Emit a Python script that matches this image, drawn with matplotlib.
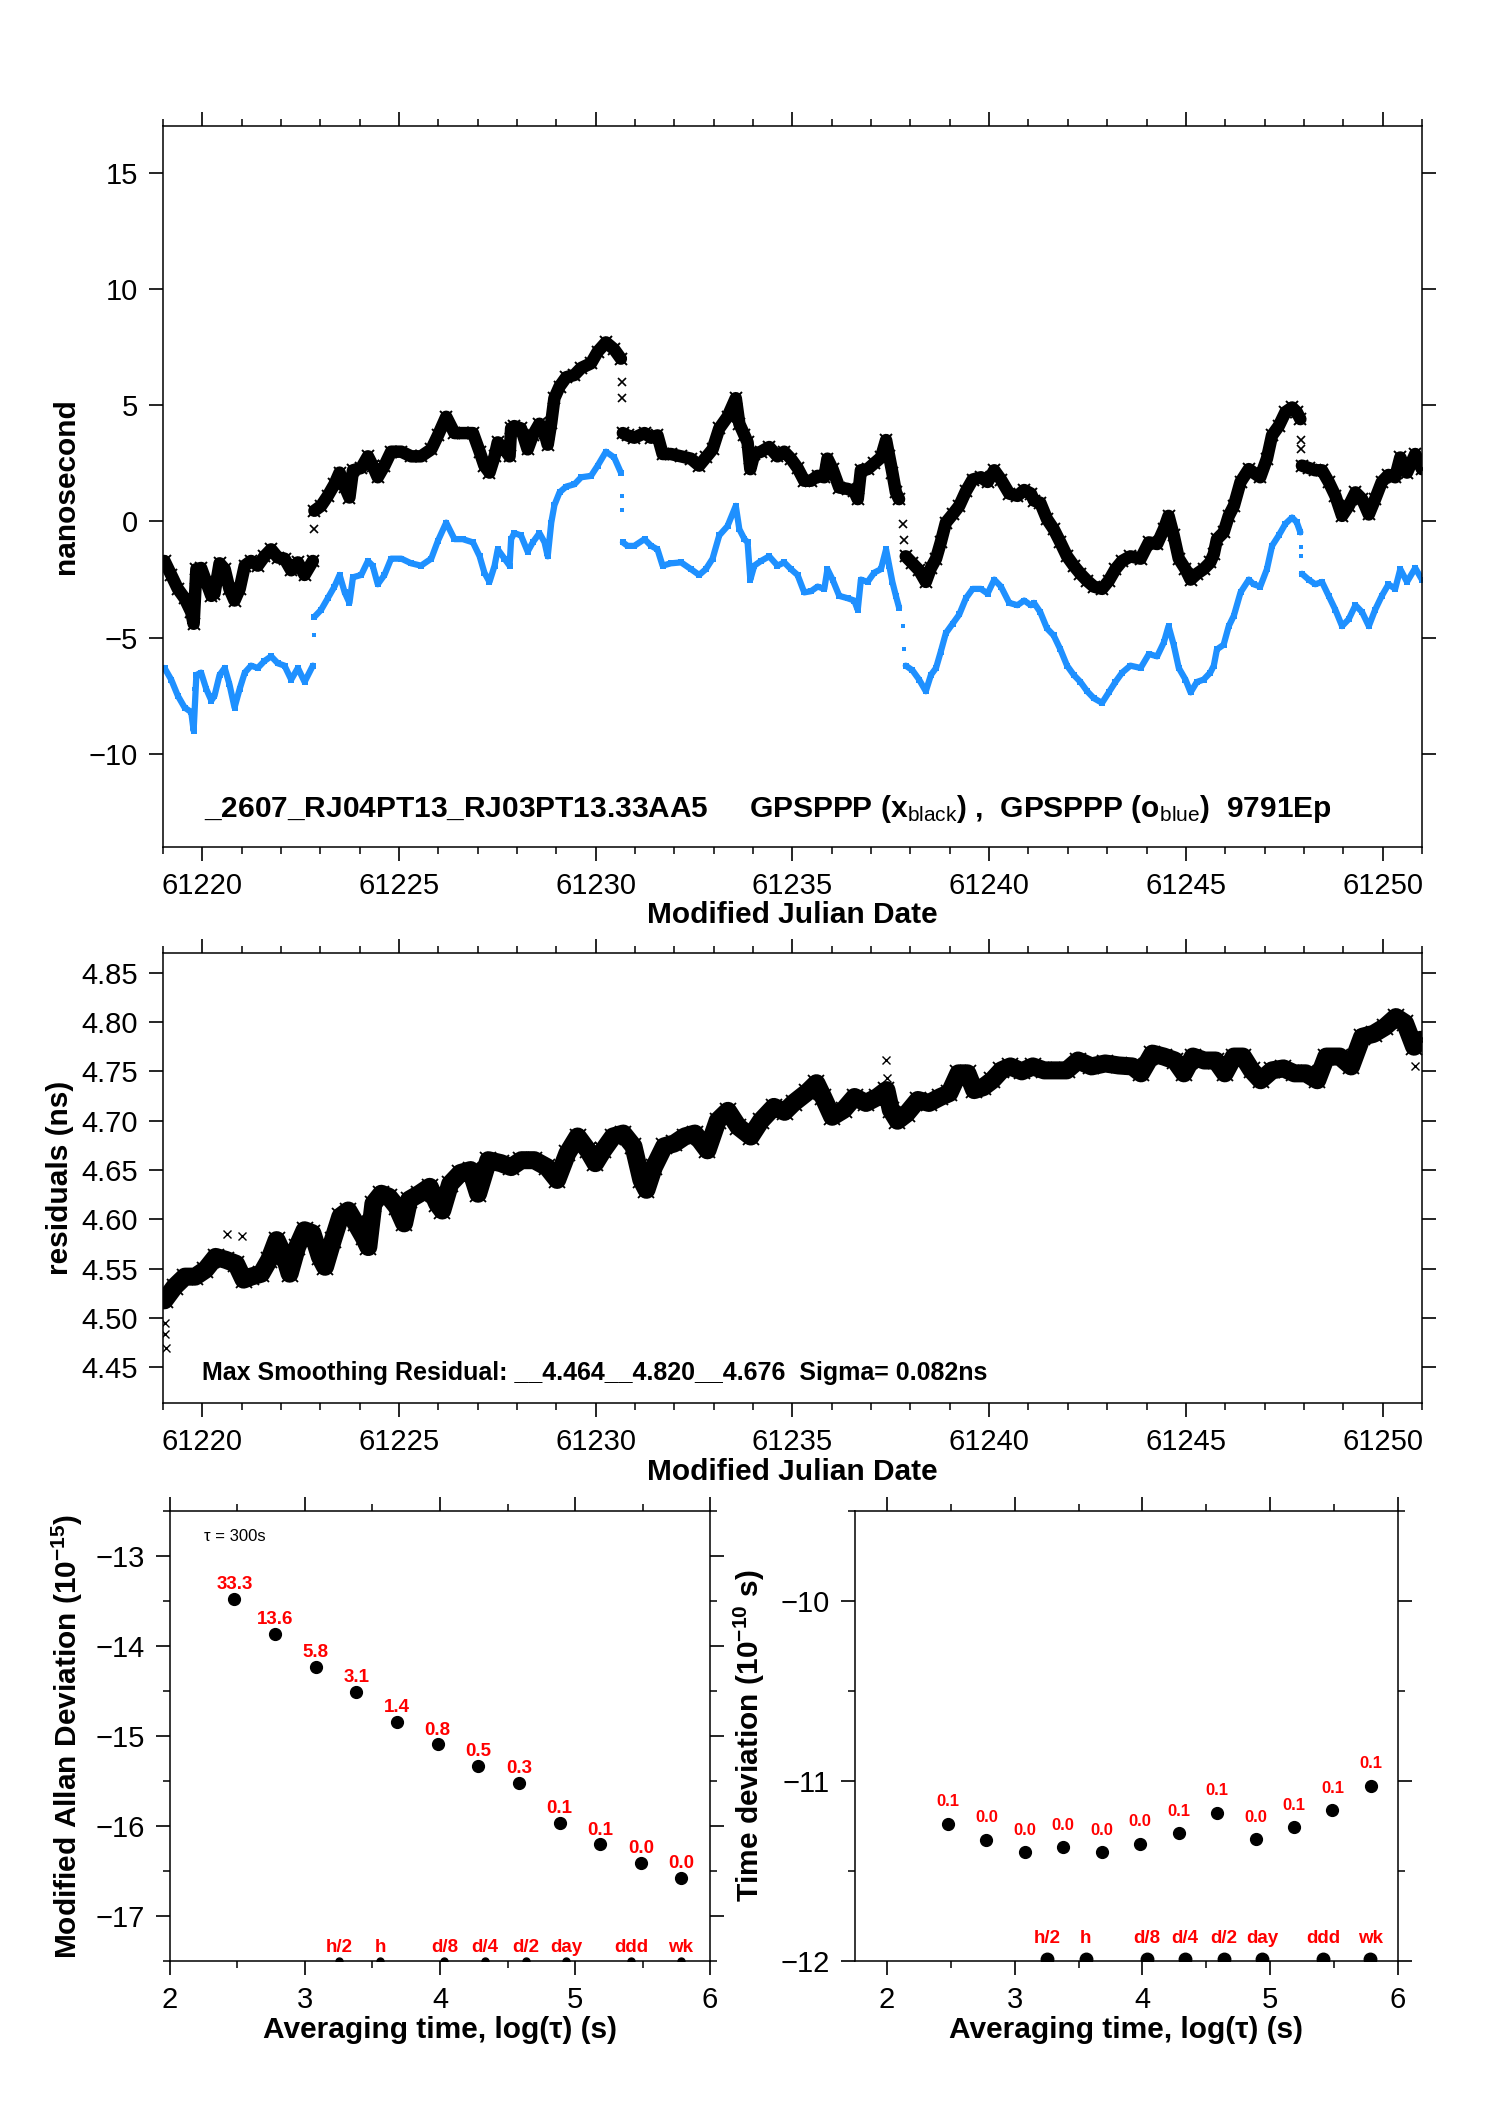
import numpy as np
import matplotlib
matplotlib.use("Agg")
import matplotlib.pyplot as plt
from matplotlib.ticker import MultipleLocator, FormatStrFormatter

plt.rcParams['font.family'] = ['Liberation Sans', 'DejaVu Sans']
plt.rcParams['mathtext.fontset'] = 'custom'
plt.rcParams['mathtext.rm'] = 'Liberation Sans'
plt.rcParams['mathtext.bf'] = 'Liberation Sans:bold'
plt.rcParams['mathtext.it'] = 'Liberation Sans:italic'
plt.rcParams['axes.unicode_minus'] = True

# ---- top panel: clock offsets (ns), None = break between segments
mjd = [61219.04, 61219.21, 61219.38, 61219.55, 61219.72, 61219.78, 61219.85, 61219.97,
       61220.10, 61220.23, 61220.31, 61220.44, 61220.57, 61220.69, 61220.82, 61220.95,
       61221.08, 61221.24, 61221.41, 61221.58, 61221.75, 61221.92, 61222.09, 61222.26,
       61222.43, 61222.60, 61222.81, None,
       61222.85, 61223.02, 61223.19, 61223.36, 61223.49, 61223.62, 61223.74, 61223.83,
       61224.04, 61224.21, 61224.33, 61224.46, 61224.63, 61224.80, 61225.06, 61225.31,
       61225.56, 61225.82, 61225.99, 61226.20, 61226.41, 61226.62, 61226.88, 61227.05,
       61227.17, 61227.30, 61227.43, 61227.51, 61227.68, 61227.81, 61227.85, 61227.93,
       61228.10, 61228.27, 61228.40, 61228.57, 61228.70, 61228.78, 61228.87, 61228.95,
       61229.08, 61229.25, 61229.46, 61229.63, 61229.88, 61230.05, 61230.26, 61230.47,
       61230.64, None,
       61230.69, 61230.81, 61230.98, 61231.24, 61231.41, 61231.57, 61231.70, 61231.91,
       61232.17, 61232.42, 61232.63, 61232.80, 61232.97, 61233.14, 61233.35, 61233.56,
       61233.65, 61233.78, 61233.86, 61233.93, 61234.03, 61234.20, 61234.41, 61234.62,
       61234.79, 61234.96, 61235.13, 61235.30, 61235.47, 61235.64, 61235.81, 61235.89,
       61236.02, 61236.19, 61236.40, 61236.57, 61236.66, 61236.74, 61236.91, 61237.08,
       61237.25, 61237.38, 61237.46, 61237.54, 61237.63, 61237.71, None,
       61237.88, 61238.05, 61238.22, 61238.39, 61238.52, 61238.65, 61238.77, 61238.90,
       61239.07, 61239.24, 61239.41, 61239.58, 61239.79, 61239.96, 61240.13, 61240.30,
       61240.51, 61240.72, 61240.89, 61241.06, 61241.14, 61241.30, 61241.47, 61241.64,
       61241.81, 61241.98, 61242.15, 61242.32, 61242.49, 61242.66, 61242.87, 61243.04,
       61243.21, 61243.38, 61243.59, 61243.85, 61244.06, 61244.27, 61244.44, 61244.56,
       61244.69, 61244.82, 61244.99, 61245.12, 61245.28, 61245.45, 61245.62, 61245.71,
       61245.79, 61245.96, 61246.09, 61246.22, 61246.39, 61246.60, 61246.72, 61246.89,
       61247.06, 61247.19, 61247.36, 61247.53, 61247.70, 61247.82, 61247.91, None,
       61247.95, 61248.12, 61248.29, 61248.46, 61248.63, 61248.80, 61248.97, 61249.14,
       61249.31, 61249.48, 61249.65, 61249.81, 61249.98, 61250.15, 61250.32, 61250.45,
       61250.62, 61250.83, 61251.00]

gps_black = [-1.7, -2.3, -2.9, -3.3, -3.9, -4.4, -2.05, -2.0,
             -2.6, -3.2, -3.1, -1.8, -2.05, -2.9, -3.4, -2.9,
             -1.9, -1.7, -1.9, -1.5, -1.2, -1.55, -1.6, -2.1,
             -1.76, -2.3, -1.7, None,
             0.46, 0.67, 1.1, 1.6, 2.1, 1.5, 1.03, 2.2,
             2.3, 2.8, 2.4, 1.9, 2.4, 3.0, 3.0, 2.8,
             2.8, 3.1, 3.7, 4.5, 3.8, 3.8, 3.8, 3.0,
             2.4, 2.1, 2.8, 3.4, 3.1, 2.8, 4.0, 4.1,
             4.0, 3.1, 3.7, 4.2, 3.8, 3.3, 4.25, 5.3,
             5.8, 6.2, 6.3, 6.6, 6.8, 7.3, 7.7, 7.4,
             7.0, None,
             3.8, 3.7, 3.6, 3.8, 3.6, 3.7, 2.9, 2.9,
             2.8, 2.7, 2.4, 2.75, 3.1, 4.0, 4.5, 5.3,
             4.2, 3.7, 3.4, 2.25, 2.9, 3.0, 3.2, 2.8,
             3.0, 2.7, 2.3, 1.75, 1.75, 1.96, 1.9, 2.7,
             2.25, 1.46, 1.4, 1.3, 0.96, 2.2, 2.25, 2.5,
             2.75, 3.5, 2.8, 2.1, 1.25, 0.96, None,
             -1.5, -1.8, -2.1, -2.6, -2.0, -1.6, -0.9, -0.05,
             0.3, 0.67, 1.3, 1.8, 1.9, 1.7, 2.2, 1.8,
             1.2, 1.1, 1.35, 1.2, 0.9, 0.8, 0.1, -0.33,
             -0.9, -1.5, -1.9, -2.25, -2.55, -2.8, -2.9, -2.55,
             -2.05, -1.7, -1.5, -1.6, -0.9, -0.97, -0.33, 0.24,
             -0.6, -1.6, -2.05, -2.5, -2.25, -2.05, -1.76, -1.4,
             -0.76, -0.47, 0.24, 0.67, 1.7, 2.25, 2.1, 1.9,
             2.7, 3.7, 4.1, 4.7, 4.9, 4.7, 4.4, None,
             2.4, 2.3, 2.2, 2.2, 1.7, 1.1, 0.24, 0.67,
             1.25, 0.96, 0.3, 0.96, 1.7, 2.0, 1.9, 2.75,
             2.1, 2.9, 2.25]

gps_blue = [-6.3, -6.8, -7.5, -8.0, -8.2, -9.0, -6.6, -6.5,
            -7.2, -7.7, -7.5, -6.6, -6.3, -7.0, -8.0, -7.2,
            -6.5, -6.2, -6.3, -6.0, -5.8, -6.1, -6.2, -6.8,
            -6.3, -6.9, -6.2, None,
            -4.1, -3.8, -3.3, -2.8, -2.3, -3.05, -3.5, -2.4,
            -2.3, -1.7, -1.9, -2.7, -2.3, -1.6, -1.6, -1.8,
            -1.9, -1.6, -0.83, -0.05, -0.76, -0.76, -0.9, -1.5,
            -2.2, -2.6, -1.9, -1.2, -1.6, -1.9, -0.76, -0.5,
            -0.6, -1.3, -0.9, -0.5, -0.9, -1.5, -0.05, 0.7,
            1.25, 1.5, 1.6, 1.9, 1.96, 2.4, 3.0, 2.75,
            2.1, None,
            -0.9, -1.05, -1.05, -0.76, -1.05, -1.2, -1.9, -1.8,
            -1.76, -2.05, -2.3, -2.05, -1.6, -0.6, -0.2, 0.67,
            -0.33, -0.76, -0.9, -2.5, -1.9, -1.7, -1.5, -1.9,
            -1.76, -2.05, -2.3, -3.05, -3.0, -2.8, -2.9, -2.05,
            -2.5, -3.2, -3.3, -3.4, -3.8, -2.5, -2.6, -2.2,
            -2.05, -1.2, -1.9, -2.6, -3.2, -3.7, None,
            -6.2, -6.4, -6.8, -7.3, -6.6, -6.3, -5.6, -4.8,
            -4.4, -4.0, -3.3, -2.9, -2.9, -3.1, -2.5, -2.8,
            -3.5, -3.6, -3.4, -3.6, -3.5, -3.9, -4.6, -4.9,
            -5.5, -6.2, -6.6, -6.9, -7.3, -7.6, -7.8, -7.35,
            -6.9, -6.5, -6.2, -6.3, -5.7, -5.8, -5.2, -4.5,
            -5.3, -6.3, -6.8, -7.35, -6.9, -6.8, -6.5, -6.2,
            -5.5, -5.3, -4.5, -4.05, -3.05, -2.5, -2.7, -2.8,
            -2.05, -1.05, -0.6, -0.1, 0.17, -0.04, -0.47, None,
            -2.25, -2.5, -2.7, -2.6, -3.2, -3.8, -4.5, -4.2,
            -3.6, -3.9, -4.5, -3.8, -3.2, -2.7, -2.9, -2.05,
            -2.6, -2.0, -2.5]

# isolated points across the jumps
jump_mjd = [61219.80, 61222.83, 61230.66, 61230.67, 61237.80, 61237.84, 61247.92, 61247.93]
jump_black = [-2.8, -0.33, 6.0, 5.3, -0.1, -0.8, 3.5, 3.1]
jump_blue = [-7.2, -4.9, 1.1, 0.5, -4.5, -5.5, -1.1, -1.5]

# ---- middle panel: residuals (ns)
res_mjd = [61219.04, 61219.30, 61219.56, 61219.82, 61220.08, 61220.34, 61220.60, 61220.86,
           61221.05, 61221.24, 61221.50, 61221.70, 61221.89, 61222.09, 61222.22, 61222.41,
           61222.60, 61222.80, 61222.99, 61223.12, 61223.32, 61223.51, 61223.71, 61223.90,
           61224.10, 61224.22, 61224.35, 61224.55, 61224.74, 61224.94, 61225.13, 61225.26,
           61225.52, 61225.78, 61225.97, 61226.10, 61226.30, 61226.56, 61226.82, 61227.01,
           61227.27, 61227.59, 61227.85, 61228.11, 61228.44, 61228.76, 61229.02, 61229.28,
           61229.54, 61229.80, 61229.99, 61230.19, 61230.44, 61230.70, 61230.96, 61231.16,
           61231.29, 61231.48, 61231.74, 61232.00, 61232.26, 61232.52, 61232.84, 61233.10,
           61233.36, 61233.62, 61233.94, 61234.20, 61234.53, 61234.80, 61235.03, 61235.38,
           61235.61, 61235.78, 61236.01, 61236.30, 61236.58, 61236.87, 61237.16, 61237.39,
           61237.50, 61237.67, 61237.90, 61238.19, 61238.47, 61238.76, 61238.99, 61239.22,
           61239.45, 61239.62, 61239.85, 61240.08, 61240.31, 61240.54, 61240.83, 61241.11,
           61241.40, 61241.69, 61241.97, 61242.26, 61242.60, 61242.95, 61243.29, 61243.64,
           61243.86, 61244.15, 61244.44, 61244.72, 61244.95, 61245.18, 61245.47, 61245.76,
           61245.99, 61246.22, 61246.45, 61246.67, 61246.90, 61247.19, 61247.48, 61247.76,
           61248.05, 61248.34, 61248.57, 61248.91, 61249.20, 61249.48, 61249.77, 61250.06,
           61250.34, 61250.57, 61250.80, 61250.97]
residual = [4.518, 4.532, 4.542, 4.542, 4.549, 4.562, 4.559, 4.555,
            4.539, 4.542, 4.545, 4.559, 4.579, 4.562, 4.545, 4.572,
            4.589, 4.586, 4.562, 4.552, 4.579, 4.603, 4.609, 4.596,
            4.582, 4.572, 4.616, 4.626, 4.623, 4.613, 4.596, 4.620,
            4.626, 4.633, 4.616, 4.609, 4.636, 4.647, 4.650, 4.626,
            4.660, 4.657, 4.653, 4.660, 4.660, 4.653, 4.640, 4.667,
            4.684, 4.670, 4.657, 4.670, 4.684, 4.687, 4.674, 4.640,
            4.630, 4.653, 4.674, 4.677, 4.684, 4.687, 4.670, 4.700,
            4.710, 4.694, 4.684, 4.700, 4.714, 4.709, 4.718, 4.729,
            4.738, 4.724, 4.704, 4.711, 4.724, 4.718, 4.724, 4.731,
            4.711, 4.700, 4.707, 4.721, 4.718, 4.724, 4.728, 4.748,
            4.748, 4.731, 4.734, 4.741, 4.751, 4.755, 4.750, 4.755,
            4.751, 4.751, 4.751, 4.761, 4.755, 4.758, 4.756, 4.755,
            4.748, 4.768, 4.765, 4.761, 4.748, 4.765, 4.761, 4.761,
            4.748, 4.765, 4.765, 4.751, 4.741, 4.751, 4.753, 4.748,
            4.748, 4.741, 4.765, 4.765, 4.755, 4.785, 4.788, 4.795,
            4.805, 4.799, 4.775, 4.782]
res_out_mjd = [61219.05, 61219.06, 61219.08, 61237.39, 61237.40, 61250.82, 61220.62, 61221.02]
res_out_val = [4.495, 4.484, 4.470, 4.762, 4.743, 4.755, 4.585, 4.583]

# ---- bottom panels
log_tau = [2.477, 2.778, 3.079, 3.380, 3.681, 3.982, 4.283, 4.584, 4.885, 5.186, 5.487, 5.788]
mdev_log = [-13.478, -13.867, -14.233, -14.507, -14.841, -15.093,
            -15.333, -15.522, -15.967, -16.204, -16.407, -16.574]
mdev_lbl = ["33.3", "13.6", "5.8", "3.1", "1.4", "0.8", "0.5", "0.3", "0.1", "0.1", "0.0", "0.0"]
tdev_log = [-11.237, -11.326, -11.394, -11.367, -11.394, -11.348,
            -11.289, -11.176, -11.324, -11.256, -11.161, -11.026]
tdev_lbl = ["0.1", "0.0", "0.0", "0.0", "0.0", "0.0", "0.1", "0.1", "0.0", "0.1", "0.1", "0.1"]
span_pos = [3.255, 3.556, 4.033, 4.334, 4.635, 4.936, 5.414, 5.782]
span_lbl = ["h/2", "h", "d/8", "d/4", "d/2", "day", "ddd", "wk"]

BLUE = "#1E90FF"
RED = "#FF0000"
TICK_FS = 21
LAB_FS = 21.5


def style(ax):
    for s in ax.spines.values():
        s.set_linewidth(1.1)
    ax.tick_params(which="both", direction="out", top=True, right=True,
                   labelsize=TICK_FS, pad=8)
    ax.tick_params(which="major", length=10, width=1.2)
    ax.tick_params(which="minor", length=5, width=1.1)


fig = plt.figure(figsize=(14.88, 21.05), dpi=100)

# top panel
ax1 = fig.add_axes([0.1095, 0.5976, 0.8461, 0.3425])
t = np.array(mjd, dtype=float)
ax1.plot(t, np.array(gps_black, dtype=float), "-", color="k", lw=9,
         solid_capstyle="round", solid_joinstyle="round")
ax1.plot(t, np.array(gps_black, dtype=float), "x", color="k", ms=9, mew=1.4)
ax1.plot(t, np.array(gps_blue, dtype=float), "-", color=BLUE, lw=4.5,
         solid_capstyle="round", solid_joinstyle="round")
ax1.plot(t, np.array(gps_blue, dtype=float), "s", color=BLUE, ms=4, mew=0)
ax1.plot(jump_mjd, jump_black, "x", color="k", ms=6, mew=1.2)
ax1.plot(jump_mjd, jump_blue, "s", color=BLUE, ms=3.5, mew=0)
ax1.set_xlim(61219.0, 61251.0)
ax1.set_ylim(-14, 17)
ax1.xaxis.set_major_locator(MultipleLocator(5))
ax1.xaxis.set_minor_locator(MultipleLocator(1))
ax1.yaxis.set_major_locator(MultipleLocator(5))
ax1.xaxis.set_major_formatter(FormatStrFormatter("%d"))
style(ax1)
ax1.set_ylabel("nanosecond", fontsize=LAB_FS, fontweight="bold")
ax1.yaxis.set_label_coords(-0.066, 0.5)
ax1.set_xlabel("Modified Julian Date", fontsize=LAB_FS, fontweight="bold")
ax1.xaxis.set_label_coords(0.5, -0.075)
ax1.text(0.033, 0.042,
         "_2607_RJ04PT13_RJ03PT13.33AA5     GPSPPP (x$_{\\rm black}$) ,  "
         "GPSPPP (o$_{\\rm blue}$)  9791Ep",
         transform=ax1.transAxes, fontsize=21.5, fontweight="bold",
         ha="left", va="baseline")

# middle panel
ax2 = fig.add_axes([0.1095, 0.3335, 0.8461, 0.2138])
ax2.plot(res_mjd, residual, "-", color="k", lw=13,
         solid_capstyle="round", solid_joinstyle="round")
ax2.plot(res_mjd, residual, "x", color="k", ms=11, mew=1.3)
ax2.plot(res_out_mjd, res_out_val, "x", color="k", ms=6, mew=1.0)
ax2.set_xlim(61219.0, 61251.0)
ax2.set_ylim(4.414, 4.87)
ax2.xaxis.set_major_locator(MultipleLocator(5))
ax2.xaxis.set_minor_locator(MultipleLocator(1))
ax2.yaxis.set_major_locator(MultipleLocator(0.05))
ax2.xaxis.set_major_formatter(FormatStrFormatter("%d"))
ax2.yaxis.set_major_formatter(FormatStrFormatter("%.2f"))
style(ax2)
ax2.set_ylabel("residuals (ns)", fontsize=LAB_FS, fontweight="bold")
ax2.yaxis.set_label_coords(-0.0707, 0.5)
ax2.set_xlabel("Modified Julian Date", fontsize=LAB_FS, fontweight="bold")
ax2.xaxis.set_label_coords(0.5, -0.122)
ax2.text(0.031, 0.051,
         "Max Smoothing Residual: __4.464__4.820__4.676  Sigma= 0.082ns",
         transform=ax2.transAxes, fontsize=18, fontweight="bold",
         ha="left", va="baseline")

# bottom left: modified Allan deviation
ax3 = fig.add_axes([0.1142, 0.0684, 0.3630, 0.2138])
ax3.plot(log_tau, mdev_log, "o", color="k", ms=8.5)
for x, y, s in zip(log_tau, mdev_log, mdev_lbl):
    ax3.annotate(s, (x, y), xytext=(0, 7), textcoords="offset points",
                 ha="center", va="baseline", color=RED, fontsize=13.5,
                 fontweight="bold")
ax3.plot(span_pos, [-17.5] * len(span_pos), "o", color="k", ms=5)
for x, s in zip(span_pos, span_lbl):
    ax3.annotate(s, (x, -17.5), xytext=(0, 6.5), textcoords="offset points",
                 ha="center", va="baseline", color=RED, fontsize=13.5,
                 fontweight="bold")
ax3.text(0.064, 0.944, "τ = 300s", transform=ax3.transAxes, fontsize=12,
         ha="left", va="center")
ax3.set_xlim(2, 6)
ax3.set_ylim(-17.5, -12.5)
ax3.xaxis.set_major_locator(MultipleLocator(1))
ax3.xaxis.set_minor_locator(MultipleLocator(0.5))
ax3.yaxis.set_major_locator(MultipleLocator(1))
ax3.yaxis.set_minor_locator(MultipleLocator(0.5))
style(ax3)
ax3.set_ylabel("Modified Allan Deviation (10$^{\\mathbf{-15}}$)",
               fontsize=LAB_FS, fontweight="bold")
ax3.yaxis.set_label_coords(-0.158, 0.5)
ax3.set_xlabel("Averaging time, log(τ) (s)", fontsize=LAB_FS, fontweight="bold")
ax3.xaxis.set_label_coords(0.5, -0.122)

# bottom right: time deviation
ax4 = fig.add_axes([0.5746, 0.0684, 0.3649, 0.2138])
ax4.plot(log_tau, tdev_log, "o", color="k", ms=8.5)
for x, y, s in zip(log_tau, tdev_log, tdev_lbl):
    ax4.annotate(s, (x, y), xytext=(0, 12.5), textcoords="offset points",
                 ha="center", va="baseline", color=RED, fontsize=12,
                 fontweight="bold")
ax4.plot(span_pos, [-11.99] * len(span_pos), "o", color="k", ms=9)
for x, s in zip(span_pos, span_lbl):
    ax4.annotate(s, (x, -12), xytext=(0, 13), textcoords="offset points",
                 ha="center", va="baseline", color=RED, fontsize=13.5,
                 fontweight="bold")
ax4.set_xlim(1.75, 6)
ax4.set_ylim(-12, -9.5)
ax4.xaxis.set_major_locator(MultipleLocator(1))
ax4.xaxis.set_minor_locator(MultipleLocator(0.5))
ax4.yaxis.set_major_locator(MultipleLocator(1))
ax4.yaxis.set_minor_locator(MultipleLocator(0.5))
style(ax4)
ax4.set_ylabel("Time deviation (10$^{\\mathbf{-10}}$ s)",
               fontsize=LAB_FS, fontweight="bold")
ax4.yaxis.set_label_coords(-0.162, 0.5)
ax4.set_xlabel("Averaging time, log(τ) (s)", fontsize=LAB_FS, fontweight="bold")
ax4.xaxis.set_label_coords(0.5, -0.122)

fig.savefig("out.png", dpi=100)
